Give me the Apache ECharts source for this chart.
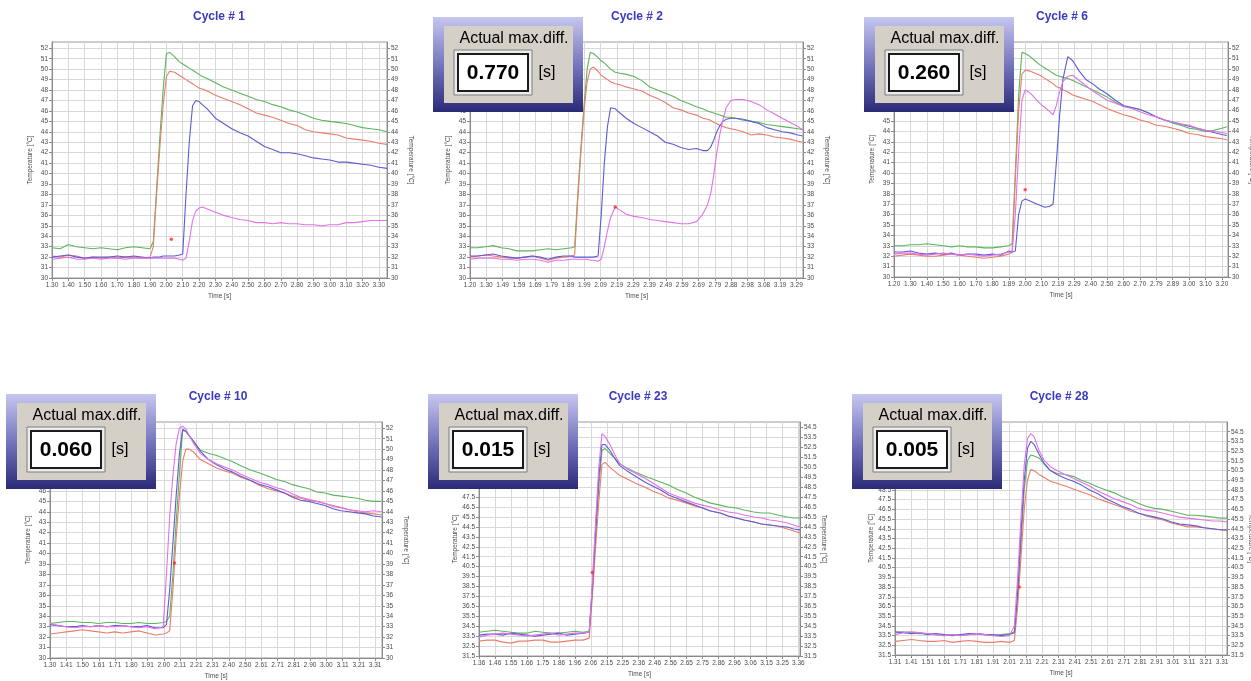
<!DOCTYPE html>
<html><head><meta charset="utf-8">
<script src="https://cdn.jsdelivr.net/npm/echarts@6/dist/echarts.min.js"></script>
<style>html,body{margin:0;padding:0;background:#fff}#c{width:1251px;height:681px}</style>
</head><body><div id="c"></div>
<script>
// ---------- DATA ----------
const titles = ['Cycle # 1','Cycle # 2','Cycle # 6','Cycle # 10','Cycle # 23','Cycle # 28'];
const maxDiff = [null,'0.770','0.260','0.060','0.015','0.005'];
const seriesNames = ['green','red','blue','magenta'];

const yTicksA = [30,31,32,33,34,35,36,37,38,39,40,41,42,43,44,45,46,47,48,49,50,51,52];
const yTicksB = [31.5,32.5,33.5,34.5,35.5,36.5,37.5,38.5,39.5,40.5,41.5,42.5,43.5,44.5,45.5,46.5,47.5,48.5,49.5,50.5,51.5,52.5,53.5,54.5];

const xLabels1 = ['1.30','1.40','1.50','1.60','1.70','1.80','1.90','2.00','2.10','2.20','2.30','2.40','2.50','2.60','2.70','2.80','2.90','3.00','3.10','3.20','3.30'];
const xLabels2 = ['1.20','1.30','1.49','1.59','1.69','1.79','1.89','1.99','2.09','2.19','2.29','2.39','2.49','2.59','2.69','2.79','2.88','2.98','3.08','3.19','3.29'];
const xLabels3 = ['1.20','1.30','1.40','1.50','1.60','1.70','1.80','1.89','2.00','2.10','2.19','2.29','2.40','2.50','2.60','2.70','2.79','2.89','3.00','3.10','3.20'];
const xLabels4 = ['1.30','1.41','1.50','1.61','1.71','1.80','1.91','2.00','2.11','2.21','2.31','2.40','2.50','2.61','2.71','2.81','2.90','3.00','3.11','3.21','3.31'];
const xLabels5 = ['1.36','1.46','1.55','1.66','1.75','1.86','1.96','2.06','2.15','2.25','2.36','2.46','2.56','2.65','2.75','2.86','2.96','3.06','3.15','3.25','3.36'];
const xLabels6 = ['1.31','1.41','1.51','1.61','1.71','1.81','1.91','2.01','2.11','2.21','2.31','2.41','2.51','2.61','2.71','2.81','2.91','3.01','3.11','3.21','3.31'];

// Cycle # 1
const p1Time = [1.30,1.35,1.40,1.45,1.50,1.55,1.60,1.65,1.70,1.75,1.80,1.85,1.90,
  1.92,1.94,1.96,1.98,2.00,
  2.02,2.05,2.08,2.10,2.12,2.14,2.16,2.18,2.20,2.22,
  2.25,2.30,2.35,2.40,2.45,2.50,2.55,2.60,2.65,2.70,2.75,2.80,2.85,2.90,2.95,3.00,3.05,3.10,3.15,3.20,3.25,3.30,3.35];
const p1Green = [32.9,32.8,33.2,33.0,32.9,32.8,32.9,32.8,32.7,32.9,33.0,32.9,32.8,
  33.5,38.5,43.5,48.0,51.5,
  51.6,51.2,50.7,50.5,50.3,50.1,49.9,49.7,49.5,49.3,
  49.1,48.7,48.3,48.0,47.7,47.4,47.1,46.9,46.6,46.4,46.1,45.9,45.6,45.3,45.1,45.0,44.9,44.8,44.6,44.4,44.3,44.2,44.0];
const p1Red = [32.1,32.0,32.2,32.1,31.9,32.0,31.9,32.0,31.9,32.0,32.0,31.9,32.0,
  33.0,38.0,42.5,46.5,49.3,
  49.8,49.7,49.4,49.2,49.0,48.8,48.6,48.4,48.2,48.1,
  47.9,47.5,47.2,46.9,46.6,46.2,45.8,45.6,45.4,45.1,44.8,44.6,44.2,44.0,43.9,43.8,43.7,43.4,43.3,43.2,43.1,42.9,42.8];
const p1Blue = [32.0,32.1,32.2,32.0,31.9,32.0,32.0,32.0,32.1,32.0,32.1,32.0,31.9,
  32.0,32.0,32.0,32.1,32.1,
  32.1,32.1,32.2,32.3,38.0,43.0,46.5,47.0,46.9,46.6,
  46.2,45.3,44.8,44.3,43.9,43.6,43.1,42.6,42.3,42.0,42.0,41.9,41.7,41.5,41.4,41.3,41.1,41.1,41.0,40.9,40.8,40.6,40.5];
const p1Magenta = [31.8,31.9,32.0,31.8,31.8,31.9,31.8,31.9,31.9,31.8,31.9,31.9,31.9,
  31.9,31.9,31.9,31.9,31.9,
  31.9,31.9,31.8,31.7,31.9,33.5,35.5,36.4,36.7,36.8,
  36.6,36.3,36.0,35.8,35.6,35.5,35.3,35.3,35.2,35.3,35.2,35.2,35.1,35.1,35.0,35.1,35.1,35.3,35.3,35.4,35.5,35.5,35.5];
const p1Mark = [2.03, 33.7];

// Cycle # 2
const p2Time = [1.20,1.25,1.30,1.35,1.40,1.45,1.50,1.55,1.60,1.65,1.70,1.75,1.80,1.85,
  1.87,1.89,1.91,1.93,1.95,1.97,1.99,
  2.02,2.04,2.06,2.08,2.10,2.13,2.16,2.20,
  2.25,2.30,2.35,2.40,2.45,2.50,2.55,2.60,2.65,
  2.69,2.72,2.74,2.76,2.78,2.80,2.82,2.84,2.87,
  2.90,2.95,3.00,3.05,3.10,3.15,3.20,3.25,3.30,3.33];
const p2Green = [32.9,32.9,33.0,33.1,32.9,32.8,32.6,32.6,32.6,32.7,32.8,32.7,32.8,32.9,
  33.0,38.0,42.5,46.5,50.0,51.6,51.5,
  51.1,50.8,50.6,50.3,50.0,49.7,49.6,49.5,
  49.3,48.9,48.3,48.0,47.7,47.4,47.0,46.7,46.4,
  46.2,46.0,45.9,45.8,45.7,45.6,45.5,45.4,45.4,
  45.3,45.1,45.0,44.9,44.7,44.6,44.5,44.4,44.3,44.2];
const p2Red = [32.0,32.1,32.2,32.1,32.0,31.9,31.9,32.0,32.1,31.9,31.7,31.9,32.0,32.1,
  32.2,37.5,42.0,46.0,48.8,50.0,50.2,
  49.8,49.4,49.2,49.0,48.8,48.6,48.5,48.3,
  48.1,47.9,47.5,47.2,46.8,46.3,46.1,45.8,45.6,
  45.3,45.2,45.1,44.9,44.8,44.6,44.5,44.4,44.3,
  44.2,44.0,43.7,43.8,43.7,43.5,43.4,43.3,43.1,43.0];
const p2Blue = [32.1,32.1,32.2,32.3,32.1,32.0,31.9,32.0,32.1,32.0,31.8,32.0,32.1,32.1,
  32.0,32.0,32.0,32.0,32.0,32.0,32.0,
  32.1,36.0,41.0,44.5,46.3,46.2,45.8,45.3,
  44.8,44.4,44.0,43.6,43.0,42.8,42.5,42.3,42.4,
  42.2,42.2,42.5,43.2,44.0,44.6,45.0,45.2,45.3,
  45.3,45.2,45.0,44.8,44.4,44.2,44.0,43.9,43.7,43.6];
const p2Magenta = [31.8,31.9,31.9,31.9,31.8,31.8,31.7,31.8,31.8,31.7,31.5,31.7,31.7,31.8,
  31.8,31.8,31.8,31.8,31.8,31.7,31.7,
  31.6,31.8,33.0,34.5,35.8,36.8,36.5,36.1,
  35.9,35.8,35.6,35.5,35.4,35.3,35.2,35.2,35.4,
  36.1,37.0,38.0,39.8,42.0,43.8,45.2,46.3,47.0,
  47.1,47.1,46.9,46.6,46.1,45.7,45.3,44.9,44.5,44.2];
const p2Mark = [2.13, 36.8];

// Cycle # 6
const p3Time = [1.20,1.25,1.30,1.35,1.40,1.45,1.50,1.55,1.60,1.65,1.70,1.75,1.80,1.85,1.90,
  1.92,1.94,1.96,1.98,2.00,
  2.03,2.06,2.09,2.12,2.15,2.17,2.19,2.21,2.23,2.26,2.29,
  2.33,2.37,2.41,2.45,2.50,2.55,2.60,2.65,2.70,2.75,2.80,2.85,2.90,2.95,3.00,3.05,3.10,3.15,3.20,3.23];
const p3Green = [33.0,33.0,33.1,33.1,33.2,33.1,33.0,32.9,33.0,32.9,32.9,32.8,32.8,32.9,33.0,
  33.2,40.0,47.5,51.6,51.5,
  51.2,50.8,50.4,50.1,49.8,49.6,49.4,49.3,49.2,49.1,48.9,
  48.6,48.3,48.0,47.7,47.3,46.8,46.4,46.3,46.1,45.8,45.4,45.1,44.8,44.6,44.3,44.2,44.0,44.1,44.3,44.45];
const p3Red = [32.0,32.1,32.2,32.1,32.0,32.0,32.1,32.2,32.1,32.0,31.9,31.8,31.9,32.0,32.2,
  32.4,39.5,46.0,49.5,49.9,
  49.8,49.6,49.4,49.1,48.8,48.6,48.3,48.2,48.0,47.8,47.5,
  47.3,47.1,46.9,46.6,46.2,45.9,45.6,45.4,45.1,44.9,44.6,44.5,44.3,44.1,43.8,43.7,43.5,43.4,43.3,43.2];
const p3Blue = [32.4,32.4,32.5,32.3,32.2,32.3,32.2,32.3,32.1,32.2,32.2,32.1,32.2,32.1,32.5,
  32.4,32.5,36.0,37.3,37.5,
  37.3,37.1,36.9,36.7,36.8,37.0,41.0,45.5,49.0,51.2,50.8,
  49.8,49.0,48.6,48.1,47.6,47.0,46.5,46.3,46.1,45.8,45.4,45.1,44.9,44.7,44.5,44.3,44.1,43.9,43.7,43.6];
const p3Magenta = [32.2,32.3,32.3,32.2,32.1,32.2,32.3,32.2,32.1,32.2,32.1,32.0,32.1,32.2,32.4,
  32.3,36.0,42.0,47.0,48.0,
  47.7,47.2,46.7,46.3,45.9,45.6,46.5,47.8,48.8,49.3,49.4,
  48.9,48.4,47.9,47.5,47.0,46.7,46.4,46.2,45.9,45.6,45.4,45.1,44.9,44.7,44.6,44.3,44.1,44.0,43.9,43.8];
const p3Mark = [2.00, 38.4];

// Cycle # 10
const p4Time = [1.30,1.35,1.40,1.45,1.50,1.55,1.60,1.65,1.70,1.75,1.80,1.85,1.90,1.95,2.00,
  2.02,2.04,2.06,2.08,2.10,2.12,2.14,2.16,2.19,
  2.23,2.28,2.33,2.38,2.43,2.48,2.54,2.60,
  2.65,2.70,2.75,2.80,2.85,2.90,2.95,3.00,3.05,3.10,3.15,3.20,3.25,3.30,3.35];
const p4Green = [33.3,33.4,33.5,33.5,33.4,33.4,33.3,33.4,33.4,33.3,33.3,33.4,33.3,33.3,33.4,
  33.5,34.0,38.0,43.0,47.5,51.8,51.7,51.3,50.7,
  49.9,49.6,49.4,49.1,48.8,48.4,48.0,47.7,
  47.4,47.1,46.9,46.6,46.4,46.2,45.9,45.8,45.6,45.5,45.4,45.3,45.1,45.0,45.0];
const p4Red = [32.3,32.4,32.5,32.6,32.7,32.6,32.5,32.4,32.5,32.4,32.5,32.6,32.4,32.2,32.3,
  32.4,32.6,36.5,41.5,45.5,48.8,50.0,50.0,49.7,
  49.0,48.6,48.2,47.9,47.7,47.3,47.0,46.5,
  46.2,46.0,45.8,45.5,45.3,45.1,45.0,44.8,44.6,44.4,44.2,44.0,43.9,43.8,43.7];
const p4Blue = [33.2,33.1,33.0,33.0,33.1,33.0,33.1,33.0,33.1,33.1,33.0,33.0,33.1,32.9,32.9,
  33.2,36.5,41.0,45.5,49.5,51.9,51.7,51.3,50.7,
  49.8,49.0,48.5,48.1,47.8,47.4,47.0,46.6,
  46.4,46.1,45.8,45.4,45.1,45.0,44.8,44.6,44.3,44.1,44.0,43.9,43.8,43.6,43.5];
const p4Magenta = [33.3,33.1,33.0,32.9,33.0,33.0,33.1,33.0,33.0,33.1,33.0,32.9,33.0,32.8,33.0,
  38.0,43.5,47.5,50.5,52.0,52.2,51.9,51.3,50.5,
  49.6,49.0,48.6,48.3,48.0,47.6,47.2,46.8,
  46.6,46.3,46.1,45.7,45.4,45.2,45.0,44.8,44.5,44.4,44.2,44.1,44.0,44.1,44.0];
const p4Mark = [2.07, 39.1];

// Cycle # 23
const p5Time = [1.36,1.41,1.46,1.51,1.56,1.61,1.66,1.71,1.76,1.81,1.86,1.91,1.96,2.01,2.05,
  2.07,2.09,2.11,2.13,2.15,2.18,2.21,2.24,
  2.29,2.34,2.40,2.45,2.50,2.55,2.60,2.66,2.71,2.76,2.81,2.87,2.92,2.97,3.02,3.08,3.13,3.18,3.23,3.29,3.33,3.37];
const p5Green = [33.9,34.0,34.1,34.0,33.9,33.8,33.8,34.0,33.9,33.8,33.8,33.9,34.0,33.9,34.0,
  38.0,43.5,48.5,52.2,52.4,51.9,51.4,50.9,
  50.4,50.0,49.6,49.3,49.0,48.7,48.3,47.9,47.5,47.2,46.9,46.7,46.5,46.4,46.2,46.0,45.9,45.9,45.7,45.5,45.4,45.4];
const p5Red = [33.0,33.1,33.1,32.9,32.8,33.0,33.0,33.1,33.1,32.9,32.9,33.0,33.1,33.1,33.3,
  37.5,42.5,47.0,50.8,51.0,50.5,50.1,49.7,
  49.3,48.9,48.5,48.1,47.8,47.4,47.2,46.9,46.6,46.4,46.1,45.9,45.6,45.4,45.2,45.0,44.8,44.7,44.6,44.3,44.1,43.9];
const p5Blue = [33.6,33.7,33.7,33.6,33.8,33.7,33.6,33.5,33.6,33.7,33.8,33.6,33.7,33.8,33.9,
  38.5,44.0,49.5,52.8,52.8,52.2,51.4,50.7,
  50.1,49.6,49.0,48.6,48.2,47.7,47.4,47.0,46.7,46.4,46.1,45.9,45.6,45.4,45.2,45.0,44.8,44.7,44.6,44.5,44.3,44.2];
const p5Magenta = [33.4,33.6,33.7,33.8,33.7,33.6,33.5,33.6,33.7,33.8,33.6,33.7,33.8,33.8,33.9,
  39.0,45.0,50.5,53.9,53.6,52.8,51.8,50.9,
  50.3,49.9,49.4,48.9,48.4,47.9,47.6,47.2,46.9,46.7,46.5,46.2,46.0,45.9,45.7,45.5,45.4,45.2,45.1,44.9,44.7,44.5];
const p5Mark = [2.07, 39.9];

// Cycle # 28
const p6Time = [1.31,1.36,1.41,1.46,1.51,1.56,1.61,1.66,1.71,1.76,1.81,1.86,1.91,1.96,2.01,
  2.04,2.06,2.08,2.10,2.12,2.14,2.16,2.19,2.22,
  2.26,2.30,2.35,2.40,2.45,2.50,2.55,2.60,2.65,2.70,2.75,2.80,2.85,2.90,2.95,3.00,3.05,3.10,3.15,3.20,3.25,3.30,3.34];
const p6Green = [33.8,33.9,33.8,33.7,33.7,33.6,33.5,33.6,33.5,33.6,33.7,33.6,33.5,33.6,33.7,
  33.9,37.5,43.0,48.5,51.5,52.1,52.0,51.8,51.2,
  50.5,50.2,50.1,49.9,49.5,49.2,48.8,48.5,48.2,47.8,47.5,47.1,46.8,46.6,46.5,46.3,46.1,45.9,45.9,45.8,45.7,45.6,45.6];
const p6Red = [32.9,33.0,33.1,33.0,32.9,32.9,33.0,32.8,32.9,33.0,32.9,32.8,32.8,32.9,32.8,
  33.0,36.5,41.5,46.5,49.5,50.6,50.5,50.1,49.8,
  49.4,49.2,48.9,48.6,48.3,48.0,47.6,47.3,47.0,46.7,46.3,46.1,45.8,45.6,45.4,45.1,44.9,44.7,44.7,44.6,44.5,44.4,44.3];
const p6Blue = [33.9,33.8,33.7,33.8,33.6,33.7,33.6,33.5,33.6,33.7,33.7,33.6,33.6,33.5,33.6,
  33.8,38.0,44.0,49.5,52.8,53.5,53.2,52.2,51.3,
  50.5,50.1,49.7,49.4,49.0,48.5,48.1,47.6,47.2,46.8,46.5,46.1,45.9,45.7,45.5,45.2,45.0,44.9,44.8,44.6,44.5,44.4,44.4];
const p6Magenta = [33.6,33.8,33.9,33.8,33.7,33.6,33.5,33.6,33.5,33.6,33.7,33.6,33.5,33.4,33.5,
  34.5,39.5,45.5,51.0,53.8,54.3,54.0,52.6,51.6,
  50.9,50.5,50.1,49.7,49.3,48.9,48.4,48.0,47.6,47.3,47.0,46.6,46.4,46.3,46.1,45.9,45.7,45.6,45.5,45.4,45.3,45.3,45.2];
const p6Mark = [2.07, 38.5];

// ---------- LAYOUT / STYLE ----------
const FONT = '"Liberation Sans", Arial, sans-serif';
const COL = {green:'#5db55d', red:'#ea7d6a', blue:'#5c5cd4', magenta:'#e272e8'};
const layout = [
 {left:52,  top:42,  width:335, height:236, xMin:1.30, xMax:3.35,  dt:0.1,    yMin:30,   yMax:52.6,  tx:219,  ty:11,  box:null},
 {left:470, top:42,  width:333, height:236, xMin:1.20, xMax:3.332, dt:0.1045, yMin:30,   yMax:52.6,  tx:637,  ty:11,  box:[433,17]},
 {left:894, top:42,  width:334, height:235, xMin:1.20, xMax:3.237, dt:0.1,    yMin:30,   yMax:52.6,  tx:1062, ty:11,  box:[864,17]},
 {left:50,  top:422, width:332, height:236, xMin:1.30, xMax:3.353, dt:0.1005, yMin:30,   yMax:52.6,  tx:218,  ty:391, box:[6,394]},
 {left:479, top:422, width:321, height:234, xMin:1.36, xMax:3.37,  dt:0.1,    yMin:31.5, yMax:55.07, tx:638,  ty:391, box:[428,394]},
 {left:895, top:422, width:332, height:233, xMin:1.31, xMax:3.34,  dt:0.1,    yMin:31.5, yMax:55.5,  tx:1059, ty:391, box:[852,394]},
];

const panels = [
 {time:p1Time, green:p1Green, red:p1Red, blue:p1Blue, magenta:p1Magenta, mark:p1Mark, xl:xLabels1, yt:yTicksA},
 {time:p2Time, green:p2Green, red:p2Red, blue:p2Blue, magenta:p2Magenta, mark:p2Mark, xl:xLabels2, yt:yTicksA},
 {time:p3Time, green:p3Green, red:p3Red, blue:p3Blue, magenta:p3Magenta, mark:p3Mark, xl:xLabels3, yt:yTicksA},
 {time:p4Time, green:p4Green, red:p4Red, blue:p4Blue, magenta:p4Magenta, mark:p4Mark, xl:xLabels4, yt:yTicksA},
 {time:p5Time, green:p5Green, red:p5Red, blue:p5Blue, magenta:p5Magenta, mark:p5Mark, xl:xLabels5, yt:yTicksB},
 {time:p6Time, green:p6Green, red:p6Red, blue:p6Blue, magenta:p6Magenta, mark:p6Mark, xl:xLabels6, yt:yTicksB},
];

panels.forEach((P, i) => seriesNames.forEach(k => {
  if (P[k].length !== P.time.length) throw new Error('length mismatch panel ' + (i+1) + ' ' + k + ': ' + P[k].length + ' vs ' + P.time.length);
}));

const grid = [], xAxis = [], yAxis = [], series = [], title = [], graphics = [];
const labelStyle = {fontSize:6.5, color:'#4a4a4a', fontFamily:FONT};
const nameStyle = {fontSize:6.5, color:'#4a4a4a', fontFamily:FONT};
const ZB = 200;

layout.forEach((L, i) => {
  const P = panels[i];
  const xTicks = P.xl.map((_, j) => +(L.xMin + j * L.dt).toFixed(4));
  const yFmt = v => (P.yt === yTicksB ? v.toFixed(1) : String(v));
  grid.push({left:L.left, top:L.top, width:L.width, height:L.height, show:true,
    backgroundColor:'#fff', borderColor:'#9a9a9a', borderWidth:1, containLabel:false, outerBoundsMode:'none'});
  xAxis.push({type:'value', gridIndex:i, min:L.xMin, max:L.xMax,
    name:'Time [s]', nameLocation:'middle', nameGap:15, nameTextStyle:nameStyle,
    axisLine:{show:true, onZero:false, lineStyle:{color:'#8a8a8a'}},
    axisTick:{show:true, length:3, customValues:xTicks, lineStyle:{color:'#8a8a8a'}},
    axisLabel:{customValues:xTicks, margin:4, ...labelStyle,
      formatter:v => P.xl[Math.round((v - L.xMin) / L.dt)]},
    splitLine:{show:true, lineStyle:{color:'#d9d9d9', width:1}}});
  const yCommon = {type:'value', gridIndex:i, min:L.yMin, max:L.yMax,
    axisTick:{show:true, length:3, customValues:P.yt, lineStyle:{color:'#8a8a8a'}},
    axisLabel:{customValues:P.yt, margin:4, ...labelStyle, formatter:yFmt},
    axisLine:{show:true, onZero:false, lineStyle:{color:'#8a8a8a'}},
    name:'Temperature [°C]', nameLocation:'middle', nameTextStyle:nameStyle};
  yAxis.push(Object.assign({}, yCommon, {position:'left', nameGap:18,
    splitLine:{show:true, lineStyle:{color:'#d9d9d9', width:1}}}));
  yAxis.push(Object.assign({}, yCommon, {position:'right', nameGap:20, nameRotate:-90,
    splitLine:{show:false}}));
  seriesNames.forEach(k => series.push({type:'line', name:k, xAxisIndex:i, yAxisIndex:2*i,
    data:P.time.map((t, j) => [t, P[k][j]]), showSymbol:false, symbol:'none', silent:true,
    lineStyle:{width:1.1, color:COL[k]}, itemStyle:{color:COL[k]}, animation:false}));
  series.push({type:'scatter', xAxisIndex:i, yAxisIndex:2*i, data:[P.mark], symbol:'circle',
    symbolSize:3.5, itemStyle:{color:'#ff2b2b'}, silent:true, animation:false, z:5});
  title.push({text:titles[i], left:L.tx, top:L.ty, textAlign:'center', padding:0,
    textStyle:{fontSize:12, fontWeight:'bold', color:'#3a3abf', fontFamily:FONT}});
  if (L.box && maxDiff[i]) {
    const [ox, oy] = L.box;
    const el = (o) => Object.assign({z:ZB, zlevel:1}, o);
    graphics.push(
      el({type:'rect', shape:{x:ox, y:oy, width:150, height:95},
        style:{fill:new echarts.graphic.LinearGradient(0, 0, 0, 1, [{offset:0, color:'#c6c6f0'}, {offset:0.55, color:'#6e6eb8'}, {offset:1, color:'#2a2a76'}])}}),
      el({type:'rect', shape:{x:ox+11, y:oy+9, width:129, height:77}, style:{fill:'#d4d0c8'}}),
      el({type:'text', x:ox+81, y:oy+22, style:{text:'Actual max.diff.', font:'16px ' + FONT, fill:'#000',
        textAlign:'center', textVerticalAlign:'middle'}}),
      el({type:'rect', shape:{x:ox+21, y:oy+33, width:78, height:45}, style:{fill:'#ececec', stroke:'#7c7c7c', lineWidth:1}}),
      el({type:'rect', shape:{x:ox+25, y:oy+37, width:70, height:37}, style:{fill:'#ffffff', stroke:'#1c1c1c', lineWidth:2}}),
      el({type:'text', x:ox+60, y:oy+56, style:{text:maxDiff[i], font:'bold 21px ' + FONT, fill:'#000',
        textAlign:'center', textVerticalAlign:'middle'}}),
      el({type:'text', x:ox+114, y:oy+56, style:{text:'[s]', font:'16px ' + FONT, fill:'#000',
        textAlign:'center', textVerticalAlign:'middle'}})
    );
  }
});

const chart = echarts.init(document.getElementById('c'), null, {renderer:'canvas'});
chart.setOption({animation:false, backgroundColor:'#fff', title, grid, xAxis, yAxis, series,
  graphic:{elements:graphics}});
</script>
</body></html>
